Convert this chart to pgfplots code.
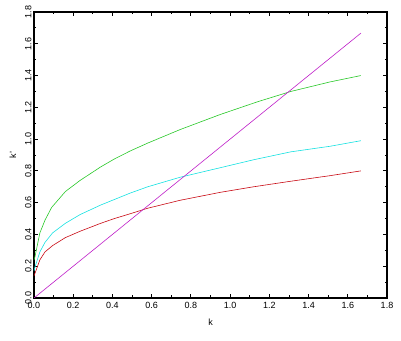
\documentclass[border=0pt]{standalone}
\usepackage{pgfplots}
\pgfplotsset{compat=1.18}
\usepackage{fontspec}
\setmainfont{Liberation Sans}
\definecolor{cgreen}{RGB}{40,200,40}
\definecolor{ccyan}{RGB}{20,225,225}
\definecolor{cred}{RGB}{200,10,20}
\definecolor{cmag}{RGB}{190,30,200}
\begin{document}
\begin{tikzpicture}
\begin{axis}[
  scale only axis,
  width=353pt, height=286pt,
  xmin=0, xmax=1.8, ymin=0, ymax=1.8,
  xtick={0,0.2,...,1.8}, ytick={0,0.2,...,1.8},
  minor tick num=1,
  tick align=inside,
  major tick length=4pt, minor tick length=2.5pt,
  tick style={black, line width=0.8pt},
  axis line style={line width=1.4pt},
  /pgf/number format/assume math mode=true,
  /pgf/number format/.cd, fixed, fixed zerofill, precision=1, /pgfplots/.cd,
  ticklabel style={font=\fontsize{9}{10}\selectfont},
  yticklabel style={rotate=90, anchor=south, yshift=-1pt},
  xticklabel style={yshift=-1pt},
  xlabel={k}, ylabel={k'},
  label style={font=\fontsize{9}{10}\selectfont},
  xlabel style={yshift=-3pt},
  ylabel style={yshift=2pt},
  every axis plot/.append style={line width=0.6pt},
]
\addplot[cgreen] coordinates {
(0,0.24) (0.005,0.26) (0.03,0.41) (0.056,0.49) (0.09,0.57) (0.16,0.67) (0.235,0.74) (0.34,0.825) (0.41,0.875) (0.49,0.925) (0.58,0.975) (0.745,1.06) (0.95,1.155) (1.14,1.235) (1.31,1.30) (1.51,1.36) (1.667,1.40)};
\addplot[ccyan] coordinates {
(0,0.17) (0.005,0.195) (0.03,0.29) (0.056,0.35) (0.095,0.41) (0.16,0.47) (0.235,0.525) (0.34,0.585) (0.41,0.62) (0.49,0.66) (0.58,0.70) (0.745,0.76) (0.95,0.82) (1.12,0.87) (1.31,0.92) (1.51,0.955) (1.667,0.99)};
\addplot[cred] coordinates {
(0,0.14) (0.005,0.155) (0.03,0.24) (0.056,0.29) (0.095,0.33) (0.16,0.38) (0.235,0.42) (0.34,0.47) (0.41,0.50) (0.49,0.53) (0.58,0.565) (0.745,0.615) (0.95,0.665) (1.12,0.70) (1.31,0.735) (1.51,0.77) (1.667,0.80)};
\addplot[cmag] coordinates {(0,0) (1.667,1.667)};
\end{axis}
\path (current axis.south west) ++(-34pt,-43pt) coordinate (bl);
\path (current axis.north east) ++(14pt,12pt) coordinate (tr);
\useasboundingbox (bl) rectangle (tr);
\end{tikzpicture}
\end{document}
